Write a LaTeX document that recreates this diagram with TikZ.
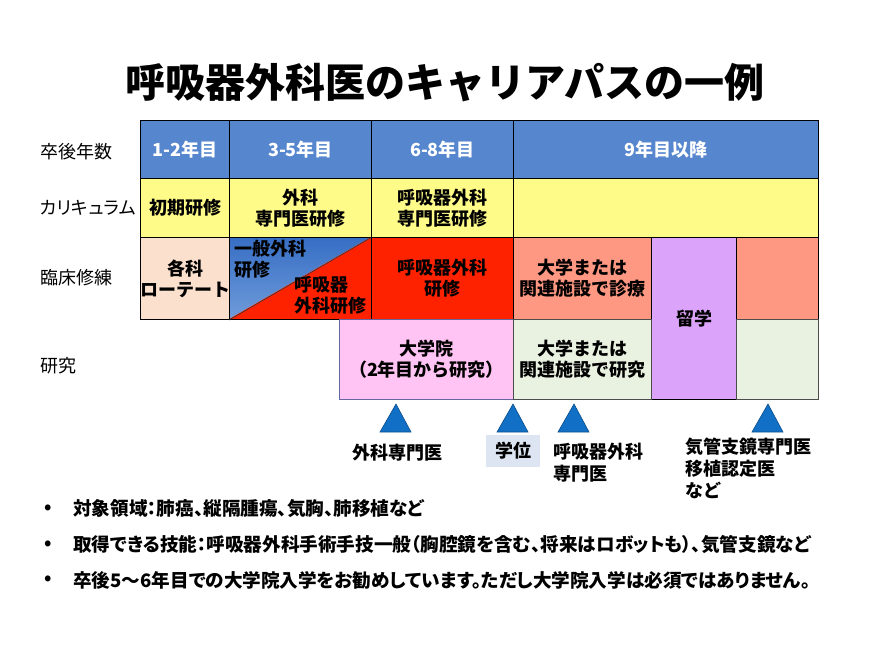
\documentclass[tikz,border=0pt]{standalone}
\usepackage{fontspec}
\setmainfont{Noto Sans CJK JP}
\newfontfamily\jpp{Noto Sans CJK JP}[RawFeature=+palt]
\definecolor{hdr}{RGB}{85,134,206}
\definecolor{yel}{RGB}{255,251,136}
\definecolor{peach}{RGB}{251,224,206}
\definecolor{redc}{RGB}{255,34,0}
\definecolor{salmon}{RGB}{255,152,130}
\definecolor{purp}{RGB}{220,163,250}
\definecolor{pinkc}{RGB}{255,196,243}
\definecolor{greenc}{RGB}{233,241,224}
\definecolor{tric}{RGB}{17,112,197}
\definecolor{tagbg}{RGB}{220,229,241}
\definecolor{blutop}{RGB}{55,110,196}
\definecolor{blubot}{RGB}{110,155,218}
\tikzset{
  cell/.style={draw=black, line width=1pt, anchor=north west, inner sep=0pt, align=center,
    font=\fontsize{18}{21}\selectfont\bfseries},
  hdrcell/.style={cell, fill=hdr, text=white},
  rowlabel/.style={anchor=west, inner sep=0pt, font=\fontsize{18}{21}\selectfont\jpp},
  celltext/.style={anchor=north west, inner sep=0pt, align=left, font=\fontsize{18}{21}\selectfont\bfseries},
  milemark/.style={fill=tric, draw=tric!70!black, line width=0.6pt},
  tag/.style={inner sep=0pt, align=left, font=\fontsize{18}{22}\selectfont\bfseries},
  bullet/.style={anchor=west, inner sep=0pt, font=\fontsize{18.6}{21}\selectfont\jpp\bfseries},
}
\begin{document}
\begin{tikzpicture}[x=1pt,y=-1pt]
\useasboundingbox (0,0) rectangle (874,653);
% title
\node[inner sep=0pt, font=\fontsize{40}{44}\selectfont\bfseries] (title) at (445,83) {呼吸器外科医のキャリアパスの一例};
% row labels
\node[rowlabel] (l1) at (40,152) {卒後年数};
\node[rowlabel] (l2) at (40,208) {カリキュラム};
\node[rowlabel] (l3) at (40,278) {臨床修練};
\node[rowlabel] (l4) at (40,366) {研究};
% header row
\node[hdrcell, minimum width=89pt, minimum height=58pt] (h1) at (140,120) {1-2年目};
\node[hdrcell, minimum width=142pt, minimum height=58pt] (h2) at (229,120) {3-5年目};
\node[hdrcell, minimum width=142pt, minimum height=58pt] (h3) at (371,120) {6-8年目};
\node[hdrcell, minimum width=305pt, minimum height=58pt] (h4) at (513,120) {9年目以降};
% curriculum row
\node[cell, fill=yel, minimum width=89pt, minimum height=59pt] (c1) at (140,178) {初期研修};
\node[cell, fill=yel, minimum width=142pt, minimum height=59pt] (c2) at (229,178) {外科\\専門医研修};
\node[cell, fill=yel, minimum width=142pt, minimum height=59pt] (c3) at (371,178) {呼吸器外科\\専門医研修};
\node[cell, fill=yel, minimum width=305pt, minimum height=59pt] (c4) at (513,178) {};
% clinical row
\node[cell, fill=peach, minimum width=89pt, minimum height=82pt] (k1) at (140,237) {各科\\ローテート};
\shade[top color=blutop, bottom color=blubot] (229,237) -- (371,237) -- (229,319) -- cycle;
\fill[redc] (371,237) -- (371,319) -- (229,319) -- cycle;
\node[cell, minimum width=142pt, minimum height=82pt] (k2) at (229,237) {};
\draw[line width=0.6pt, black!80] (k2.south west) -- (k2.north east);
\node[celltext] (k2a) at (234,240) {一般外科\\研修};
\node[celltext] (k2b) at (294,276) {呼吸器\\外科研修};
\node[cell, fill=redc, minimum width=142pt, minimum height=82pt] (k3) at (371,237) {呼吸器外科\\研修};
\node[cell, fill=salmon, minimum width=138pt, minimum height=82pt] (k4) at (513,237) {大学または\\関連施設で診療};
\node[cell, fill=purp, minimum width=85pt, minimum height=162pt] (ry) at (651,237) {留学};
\node[cell, fill=salmon, minimum width=82pt, minimum height=82pt] (k5) at (736,237) {};
% research row
\node[cell, draw=black!60!blue!60, fill=pinkc, minimum width=174pt, minimum height=80pt] (r1) at (339,319) {大学院\\（2年目から研究）};
\node[cell, draw=black!70, fill=greenc, minimum width=138pt, minimum height=80pt] (r2) at (513,319) {大学または\\関連施設で研究};
\node[cell, draw=black!70, fill=greenc, minimum width=82pt, minimum height=80pt] (r3) at (736,319) {};
% milestone marks
\filldraw[milemark] (396,404) -- (380,432) -- (411,432) -- cycle;
\filldraw[milemark] (513,404) -- (497,432) -- (528,432) -- cycle;
\filldraw[milemark] (574,404) -- (558,432) -- (589,432) -- cycle;
\filldraw[milemark] (768,404) -- (752,432) -- (783,432) -- cycle;
\node[tag, anchor=west] (m1) at (352,453) {外科専門医};
\node[tag, fill=tagbg, minimum width=54pt, minimum height=32pt, align=center] (m2) at (513,451) {学位};
\node[tag, anchor=north west] (m3) at (553,443) {呼吸器外科\\専門医};
\node[tag, anchor=north west] (m4) at (685,438) {気管支鏡専門医\\移植認定医\\など};
% bullets
\node[bullet] (b1d) at (44,509) {•};
\node[bullet] (b1) at (73,509) {対象領域：肺癌、縦隔腫瘍、気胸、肺移植など};
\node[bullet] (b2d) at (44,545) {•};
\node[bullet] (b2) at (73,545) {取得できる技能：呼吸器外科手術手技一般（胸腔鏡を含む、将来はロボットも）、気管支鏡など};
\node[bullet] (b3d) at (44,580) {•};
\node[bullet] (b3) at (73,580) {卒後5〜6年目での大学院入学をお勧めしています。ただし大学院入学は必須ではありません。};
\end{tikzpicture}
\end{document}
